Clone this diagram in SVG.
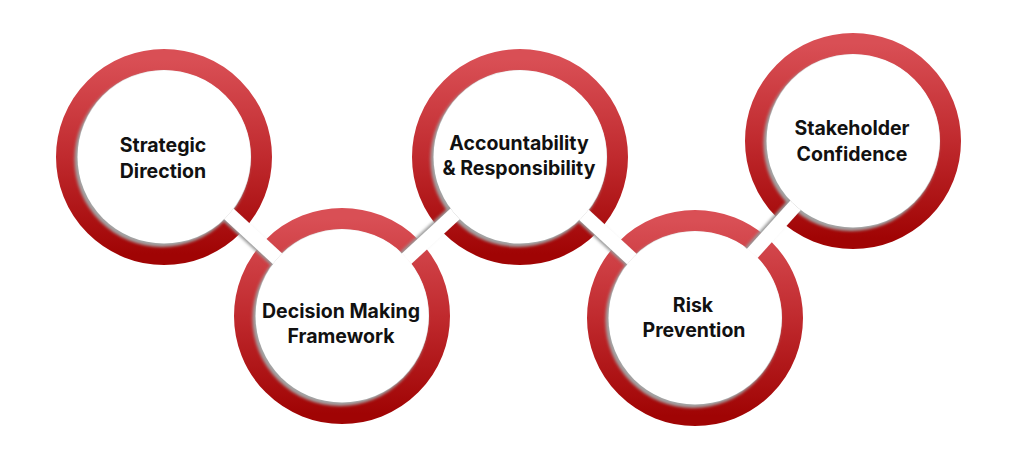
<svg xmlns="http://www.w3.org/2000/svg" width="1024" height="472" viewBox="0 0 1024 472">
  <defs>
    <linearGradient id="redGrad" x1="0" y1="0" x2="0" y2="1">
      <stop offset="0" stop-color="#d94f55"/>
      <stop offset="0.5" stop-color="#c02a2e"/>
      <stop offset="1" stop-color="#a00404"/>
    </linearGradient>
    <filter id="soft" x="-20%" y="-20%" width="140%" height="140%">
      <feGaussianBlur stdDeviation="1.6"/>
    </filter>
    <mask id="outsideDisks" maskUnits="userSpaceOnUse" x="0" y="0" width="1024" height="472">
      <rect width="1024" height="472" fill="#ffffff"/>
      <circle cx="164" cy="157" r="86.5" fill="#000000"/>
      <circle cx="342" cy="316" r="86.5" fill="#000000"/>
      <circle cx="520" cy="157" r="86.5" fill="#000000"/>
      <circle cx="695" cy="318" r="86.5" fill="#000000"/>
      <circle cx="853" cy="141" r="86.5" fill="#000000"/>
    </mask>
  </defs>
  <style>
    .ring { fill: none; stroke: url(#redGrad); stroke-width: 21; }
    .ishadow { fill: #a3a3a3; filter: url(#soft); }
    .disk { fill: #ffffff; }
    .label { font-family: Inter, "Liberation Sans", sans-serif; font-weight: 700; font-size: 19.5px; fill: #111111; text-anchor: middle; }
    .bshadow { stroke: #9a9a9a; stroke-width: 14; fill: none; filter: url(#soft); }
    .band { stroke: #ffffff; stroke-width: 14; fill: none; }
  </style>
  <rect width="1024" height="472" fill="#ffffff"/>

  <g id="node-strategic">
    <circle class="ring" cx="164" cy="157" r="97.5"/>
    <circle class="ishadow" cx="162" cy="159.5" r="87.5"/>
    <circle class="disk" cx="164" cy="157" r="86.5"/>
    <text class="label" x="163" y="152">Strategic</text>
    <text class="label" x="163" y="178">Direction</text>
  </g>

  <g id="node-decision">
    <circle class="ring" cx="342" cy="316" r="97.5"/>
    <circle class="ishadow" cx="340" cy="318.5" r="87.5"/>
    <circle class="disk" cx="342" cy="316" r="86.5"/>
    <text class="label" x="341" y="318">Decision Making</text>
    <text class="label" x="341" y="343">Framework</text>
  </g>

  <g id="node-accountability">
    <circle class="ring" cx="520" cy="157" r="97.5"/>
    <circle class="ishadow" cx="518" cy="159.5" r="87.5"/>
    <circle class="disk" cx="520" cy="157" r="86.5"/>
    <text class="label" x="519" y="150">Accountability</text>
    <text class="label" x="519" y="175">&amp; Responsibility</text>
  </g>

  <g id="node-risk">
    <circle class="ring" cx="695" cy="318" r="97.5"/>
    <circle class="ishadow" cx="693" cy="320.5" r="87.5"/>
    <circle class="disk" cx="695" cy="318" r="86.5"/>
    <text class="label" x="693" y="312">Risk</text>
    <text class="label" x="694" y="337">Prevention</text>
  </g>

  <g id="node-stakeholder">
    <circle class="ring" cx="853" cy="141" r="97.5"/>
    <circle class="ishadow" cx="851" cy="143.5" r="87.5"/>
    <circle class="disk" cx="853" cy="141" r="86.5"/>
    <text class="label" x="852" y="135">Stakeholder</text>
    <text class="label" x="852" y="161">Confidence</text>
  </g>

  <g id="connectors" mask="url(#outsideDisks)">
    <g id="link-1-2">
      <line class="bshadow" x1="206" y1="195.5" x2="297" y2="279.5"/>
      <line class="band" x1="209" y1="195.5" x2="300" y2="279.5"/>
    </g>
    <g id="link-2-3">
      <line class="bshadow" x1="381" y1="279.5" x2="472" y2="195.5"/>
      <line class="band" x1="384" y1="279.5" x2="475" y2="195.5"/>
    </g>
    <g id="link-3-4">
      <line class="bshadow" x1="560" y1="195.5" x2="651" y2="279.5"/>
      <line class="band" x1="563" y1="195.5" x2="654" y2="279.5"/>
    </g>
    <g id="link-4-5">
      <line class="bshadow" x1="719" y1="287" x2="823" y2="171.5"/>
      <line class="band" x1="722" y1="287" x2="826" y2="171.5"/>
    </g>
  </g>
</svg>
